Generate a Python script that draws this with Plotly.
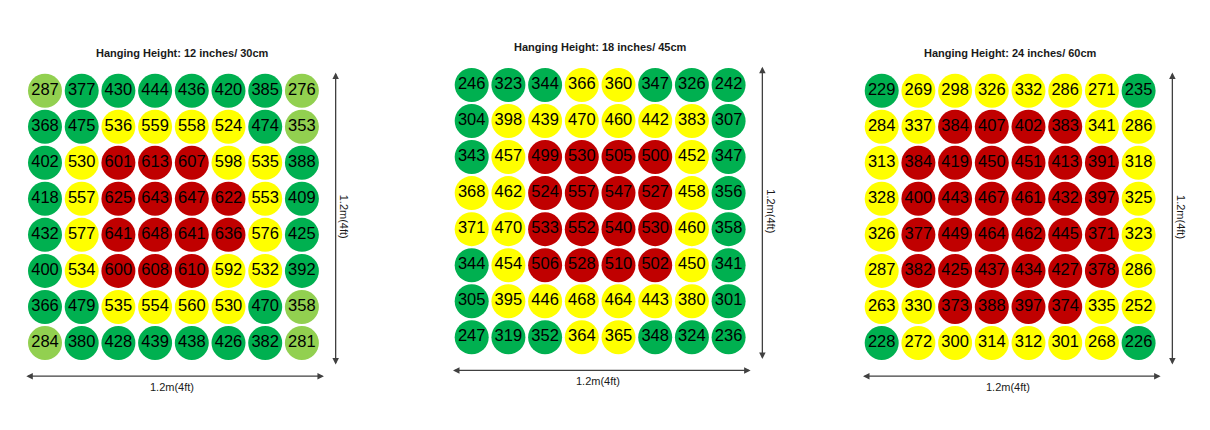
import plotly.graph_objects as go

# lux readings, row by row (top row first), 8 x 8 grid per hanging height
titles = [
    "Hanging Height: 12 inches/ 30cm",
    "Hanging Height: 18 inches/ 45cm",
    "Hanging Height: 24 inches/ 60cm",
]

grid_12in = [
    [287, 377, 430, 444, 436, 420, 385, 276],
    [368, 475, 536, 559, 558, 524, 474, 353],
    [402, 530, 601, 613, 607, 598, 535, 388],
    [418, 557, 625, 643, 647, 622, 553, 409],
    [432, 577, 641, 648, 641, 636, 576, 425],
    [400, 534, 600, 608, 610, 592, 532, 392],
    [366, 479, 535, 554, 560, 530, 470, 358],
    [284, 380, 428, 439, 438, 426, 382, 281],
]

grid_18in = [
    [246, 323, 344, 366, 360, 347, 326, 242],
    [304, 398, 439, 470, 460, 442, 383, 307],
    [343, 457, 499, 530, 505, 500, 452, 347],
    [368, 462, 524, 557, 547, 527, 458, 356],
    [371, 470, 533, 552, 540, 530, 460, 358],
    [344, 454, 506, 528, 510, 502, 450, 341],
    [305, 395, 446, 468, 464, 443, 380, 301],
    [247, 319, 352, 364, 365, 348, 324, 236],
]

grid_24in = [
    [229, 269, 298, 326, 332, 286, 271, 235],
    [284, 337, 384, 407, 402, 383, 341, 286],
    [313, 384, 419, 450, 451, 413, 391, 318],
    [328, 400, 443, 467, 461, 432, 397, 325],
    [326, 377, 449, 464, 462, 445, 371, 323],
    [287, 382, 425, 437, 434, 427, 378, 286],
    [263, 330, 373, 388, 397, 374, 335, 252],
    [228, 272, 300, 314, 312, 301, 268, 226],
]

grids = [grid_12in, grid_18in, grid_24in]

# colour bands per panel: (upper limit, colour); last band is open-ended
bands = [
    [(360, "#92d050"), (500, "#00b050"), (600, "#ffff00"), (None, "#c00000")],
    [(360, "#00b050"), (499, "#ffff00"), (None, "#c00000")],
    [(250, "#00b050"), (370, "#ffff00"), (None, "#c00000")],
]

size_label = "1.2m(4ft)"

W, H = 1210, 430
# pixel placement of each panel: centre of first column / row
panel_px = [
    dict(x0=45.0, y0=90.7),
    dict(x0=471.7, y0=85.0),
    dict(x0=881.7, y0=90.7),
]
title_x = [3.76, 3.5, 3.5]
dx, dy = 36.7, 36.04
x_rng = (-0.7, 8.5)
y_rng = (-1.5, 8.5)


def band_colour(v, panel_bands):
    for limit, colour in panel_bands:
        if limit is None or v < limit:
            return colour
    return panel_bands[-1][1]


fig = go.Figure()
layout = {}

for p, grid in enumerate(grids):
    xa = "x" if p == 0 else f"x{p + 1}"
    ya = "y" if p == 0 else f"y{p + 1}"
    xs, ys, vals, cols = [], [], [], []
    for r, row in enumerate(grid):
        for c, v in enumerate(row):
            xs.append(c)
            ys.append(r)
            vals.append(str(v))
            cols.append(band_colour(v, bands[p]))

    fig.add_trace(go.Scatter(
        x=xs, y=ys, xaxis=xa, yaxis=ya,
        mode="markers+text",
        text=vals,
        textposition="middle center",
        textfont=dict(family="Liberation Sans, Arial", size=16.5, color="#000000"),
        marker=dict(size=34, color=cols, line=dict(width=0)),
        hoverinfo="text",
        showlegend=False,
    ))

    px = panel_px[p]
    left = px["x0"] + x_rng[0] * dx
    right = px["x0"] + x_rng[1] * dx
    top = px["y0"] + y_rng[0] * dy
    bottom = px["y0"] + y_rng[1] * dy
    key = "" if p == 0 else str(p + 1)
    layout[f"xaxis{key}"] = dict(
        domain=[left / W, right / W], range=list(x_rng), visible=False,
        anchor=ya, fixedrange=True,
    )
    layout[f"yaxis{key}"] = dict(
        domain=[1 - bottom / H, 1 - top / H], range=[y_rng[1], y_rng[0]], visible=False,
        anchor=xa, fixedrange=True,
    )

fig.update_layout(**layout)

label_font = dict(family="Liberation Sans, Arial", size=11, color="#1a1a1a")
annotations = []
for p in range(3):
    xa = "x" if p == 0 else f"x{p + 1}"
    ya = "y" if p == 0 else f"y{p + 1}"
    annotations.append(dict(
        text=f"<b>{titles[p]}</b>", x=title_x[p], y=-1.05, xref=xa, yref=ya,
        showarrow=False, font=label_font,
    ))
    # horizontal width arrow
    annotations.append(dict(
        text="", x=7.6, y=7.92, ax=-0.55, ay=7.92, xref=xa, yref=ya, axref=xa, ayref=ya,
        showarrow=True, arrowhead=2, startarrowhead=2, arrowside="end+start",
        arrowsize=1, arrowwidth=1.3, arrowcolor="#404040",
    ))
    annotations.append(dict(
        text=size_label, x=3.45, y=8.22, xref=xa, yref=ya, showarrow=False,
        font=label_font,
    ))
    # vertical depth arrow
    annotations.append(dict(
        text="", x=7.92, y=7.6, ax=7.92, ay=-0.55, xref=xa, yref=ya, axref=xa, ayref=ya,
        showarrow=True, arrowhead=2, startarrowhead=2, arrowside="end+start",
        arrowsize=1, arrowwidth=1.3, arrowcolor="#404040",
    ))
    annotations.append(dict(
        text=size_label, x=8.15, y=3.5, xref=xa, yref=ya, showarrow=False,
        textangle=90, font=label_font,
    ))

fig.update_layout(
    width=W, height=H,
    margin=dict(l=0, r=0, t=0, b=0),
    paper_bgcolor="white",
    plot_bgcolor="white",
    annotations=annotations,
)

# drop the browser's default body margin so the figure sits at the page origin
fig.write_html(
    "out.html",
    config={"displayModeBar": False},
    post_script="document.body.style.margin='0';",
)
